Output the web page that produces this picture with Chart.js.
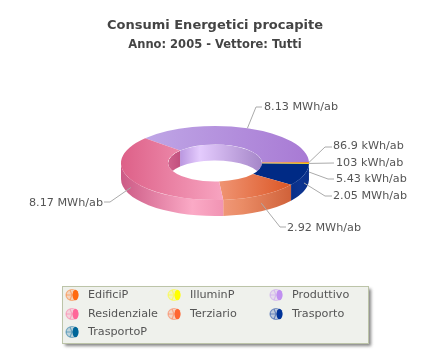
<!DOCTYPE html>
<html><head><meta charset="utf-8">
<style>html,body{margin:0;padding:0;background:#fff}canvas{display:block}</style>
<script src="https://cdn.jsdelivr.net/npm/chart.js@4"></script></head>
<body><canvas id="c" width="430" height="358"></canvas>
<script>
// Data, clockwise from the start of Produttivo (kWh/ab)
const categories = ['Produttivo','EdificiP','IlluminP','TrasportoP','Trasporto','Terziario','Residenziale'];
const values = [8130, 86.9, 103, 5.43, 2050, 2920, 8170];
const valueLabels = ['8.13 MWh/ab','86.9 kWh/ab','103 kWh/ab','5.43 kWh/ab','2.05 MWh/ab','2.92 MWh/ab','8.17 MWh/ab'];
const legendOrder = ['EdificiP','IlluminP','Produttivo','Residenziale','Terziario','Trasporto','TrasportoP'];
const titleText = 'Consumi Energetici procapite';
const subtitleText = 'Anno: 2005 - Vettore: Tutti';

// Styles
const legendColors = {EdificiP:'#ff6a10',IlluminP:'#ffff00',Produttivo:'#c090f0',Residenziale:'#ff6699',Terziario:'#ff6633',Trasporto:'#003399',TrasportoP:'#006699'};
// [x0, x1, colours]
const topStyle = {Produttivo:[144,309,['#bfa6e6','#a87ad4']],EdificiP:[121,309,['#f08a30','#f08a30']],IlluminP:[121,309,['#f2d020','#f2d020']],TrasportoP:[121,309,['#00508a','#00508a']],Trasporto:[121,309,['#002a85','#002a85']],Terziario:[222,292,['#ef9270','#db5524']],Residenziale:[121,226,['#dd6088','#f8a6c2']]};
// [x0, x1, highlight position, colours]
const sideStyle = {EdificiP:[300,310,.5,['#e07020','#e07020','#e07020']],IlluminP:[300,310,.5,['#e0c010','#e0c010','#e0c010']],TrasportoP:[300,310,.5,['#004a80','#004a80','#004a80']],Trasporto:[291,310,.5,['#0a2f88','#0c3490','#0a2f88']],Terziario:[225,293,.25,['#ef9676','#ea8c66','#cf6038']],Residenziale:[121,226,.68,['#cc5a85','#fbaac6','#f092b2']]};
// Layout of the value labels: [textX, textY, align, elbowX, elbowY, lineEndX]
const labelLayout = {
  Produttivo:[264,107,'left',256,107,262],EdificiP:[333,146,'left',325,147,332],IlluminP:[336,163,'left',null,163,334],
  TrasportoP:[336,179,'left',328,179,334],Trasporto:[333,196,'left',325,196,332],Terziario:[287,228,'left',280,227,286],Residenziale:[103,203,'right',110,202,104]};
const FLAT = 0.394, DEPTH = 16, CY = 163;
const FONT = '"DejaVu Sans"';
const TAU = Math.PI*2;

function grad(ctx,x0,x1,stops,mid){const g=ctx.createLinearGradient(x0,0,x1,0);
  if(stops.length===3){g.addColorStop(0,stops[0]);g.addColorStop(mid,stops[1]);g.addColorStop(1,stops[2]);}
  else{g.addColorStop(0,stops[0]);g.addColorStop(1,stops[1]);}
  return g;}
function ranges(a,b,wins){const o=[];wins.forEach(w=>{const s=Math.max(a,w[0]),e=Math.min(b,w[1]);if(e>s)o.push([s,e]);});return o;}

const plugin3d = {
  id:'flat3d',
  beforeDatasetsDraw(chart){
    const ctx=chart.ctx, meta=chart.getDatasetMeta(0), arcs=meta.data;
    const cx=arcs[0].x, R=arcs[0].outerRadius, r=arcs[0].innerRadius, ry=R*FLAT, iry=r*FLAT;
    const norm=a=>{let s=a.startAngle%TAU;if(s<0)s+=TAU;return [s,s+(a.endAngle-a.startAngle)];};
    // outer walls
    arcs.forEach((a,i)=>{
      const [s,e]=norm(a), st=sideStyle[categories[i]];
      ranges(s,e,[[0,Math.PI],[TAU,TAU+Math.PI]]).forEach(([p,q])=>{
        ctx.beginPath();
        ctx.ellipse(cx,CY,R,ry,0,p,q,false);
        ctx.ellipse(cx,CY+DEPTH,R,ry,0,q,p,true);
        ctx.closePath();
        ctx.fillStyle=grad(ctx,st[0],st[1],st[3],st[2]);
        ctx.fill();
      });
    });
    // inner walls, clipped to the hole
    ctx.save();
    ctx.beginPath();ctx.ellipse(cx,CY,r,iry,0,0,TAU);ctx.clip();
    arcs.forEach((a,i)=>{
      const [s,e]=norm(a);
      ranges(s,e,[[Math.PI,TAU],[TAU+Math.PI,2*TAU]]).forEach(([p,q])=>{
        ctx.beginPath();
        ctx.ellipse(cx,CY,r,iry,0,p,q,false);
        ctx.ellipse(cx,CY+DEPTH,r,iry,0,q,p,true);
        ctx.closePath();
        const name=categories[i];
        ctx.fillStyle= name==='Residenziale'? grad(ctx,cx-r,cx-r+12,['#d0628c','#c2507e'])
          : grad(ctx,cx-r+11,cx+r,['#b794de','#e4cbfd','#a586c8'],.25);
        ctx.fill();
      });
    });
    ctx.restore();
    // top face through the library's own arcs
    ctx.save();
    ctx.translate(0,CY);ctx.scale(1,FLAT);ctx.translate(0,-arcs[0].y);
  },
  afterDatasetsDraw(chart){
    const ctx=chart.ctx; ctx.restore();
    const arcs=chart.getDatasetMeta(0).data, cx=arcs[0].x, R=arcs[0].outerRadius, ry=R*FLAT;
    // leader lines + labels
    ctx.save();
    ctx.font='11.2px '+FONT;ctx.textBaseline='middle';
    arcs.forEach((a,i)=>{
      const name=categories[i],m=(a.startAngle+a.endAngle)/2,L=labelLayout[name];
      const sinm=Math.sin(m);
      const px=cx+R*Math.cos(m),py=CY+ry*sinm+(sinm>0.015?DEPTH/2:0);
      ctx.strokeStyle='#aaaaaa';ctx.lineWidth=1;
      ctx.beginPath();ctx.moveTo(px,py);
      if(L[3]!==null)ctx.lineTo(L[3],L[4]);
      ctx.lineTo(L[5],L[4]);ctx.stroke();
      ctx.fillStyle='#555555';ctx.textAlign=L[2];
      ctx.fillText(valueLabels[i],L[0],L[1]);
    });
    ctx.restore();
    // legend box
    ctx.save();
    ctx.shadowColor='rgba(90,90,90,.75)';ctx.shadowBlur=3;ctx.shadowOffsetX=2;ctx.shadowOffsetY=2;
    ctx.fillStyle='#eff1ec';ctx.fillRect(63,287,306,57);
    ctx.restore();
    ctx.strokeStyle='#bcc4a8';ctx.lineWidth=1;ctx.strokeRect(62.5,286.5,306,57);
    const colsIcon=[66,168,270],colsText=[88,190,292],rows=[295,314,332];
    ctx.font='11.2px '+FONT;ctx.textBaseline='middle';ctx.textAlign='left';
    legendOrder.forEach((n,i)=>{
      const c=i%3,w=Math.floor(i/3),x=colsIcon[c],y=rows[w],col=legendColors[n];
      ctx.save();
      ctx.strokeStyle=col;ctx.lineWidth=1.2;ctx.fillStyle=col;
      ctx.beginPath();ctx.ellipse(x+6,y,6,5.5,0,0,TAU);ctx.globalAlpha=.2;ctx.fill();ctx.globalAlpha=.45;ctx.stroke();
      ctx.beginPath();ctx.moveTo(x,y);ctx.lineTo(x+7,y);ctx.moveTo(x+4,y-5);ctx.lineTo(x+6,y);ctx.lineTo(x+4,y+5);ctx.stroke();
      ctx.globalAlpha=1;
      ctx.beginPath();ctx.ellipse(x+9.5,y,3,5.3,0,0,TAU);ctx.fill();
      ctx.restore();
      ctx.fillStyle='#555555';ctx.fillText(n,colsText[c],y);
    });
  }
};

const ctx0=document.getElementById('c').getContext('2d');
new Chart(ctx0,{
  type:'doughnut',
  data:{labels:categories,datasets:[{data:values,borderWidth:0,
    backgroundColor:categories.map(n=>grad(ctx0,topStyle[n][0],topStyle[n][1],topStyle[n][2]))}]},
  options:{
    responsive:false,animation:false,cutout:'50%',radius:94,rotation:-48,
    plugins:{
      legend:{display:false},tooltip:{enabled:false},
      title:{display:true,text:titleText,color:'#444444',font:{family:FONT,size:13,weight:'bold'},padding:{top:18,bottom:5}},
      subtitle:{display:true,text:subtitleText,color:'#444444',font:{family:FONT,size:11.5,weight:'bold'},padding:{bottom:4}}
    }
  },
  plugins:[plugin3d]
});
</script></body></html>
